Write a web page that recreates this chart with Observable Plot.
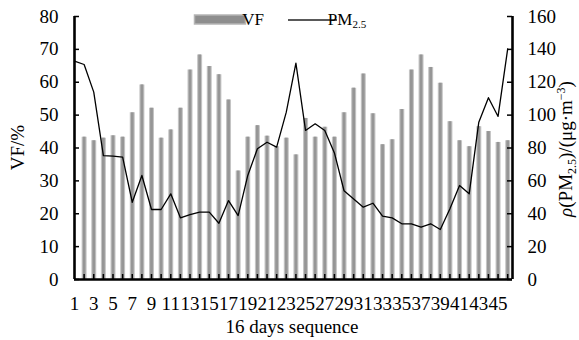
<!DOCTYPE html>
<html><head><meta charset="utf-8">
<script src="https://cdn.jsdelivr.net/npm/d3@7"></script>
<script src="https://cdn.jsdelivr.net/npm/@observablehq/plot@0.6"></script>
<style>body{margin:0;background:#fff} svg text{font-family:"Liberation Serif","Times New Roman",serif}</style>
</head><body><div id="chart"></div>
<script>
// VF (%) per sampling day, days 1..45
const days = [1,2,3,4,5,6,7,8,9,10,11,12,13,14,15,16,17,18,19,20,21,22,23,24,25,26,27,28,29,30,31,32,33,34,35,36,37,38,39,40,41,42,43,44,45];
const vf = [43.3,42.2,43,43.7,43.3,50.7,59.2,52.1,43,45.5,52.1,63.7,68.3,64.8,62.3,54.6,33,43.3,46.8,43.6,40.4,43,37.9,49,43.3,46.3,43.3,50.7,58.2,62.5,50.4,41,42.5,51.7,63.7,68.3,64.5,59.7,48,42.2,40.4,46.5,45,41.7,42.2];
// PM2.5 (µg/m3) series index 0..45
const pmIdx = [0,1,2,3,4,5,6,7,8,9,10,11,12,13,14,15,16,17,18,19,20,21,22,23,24,25,26,27,28,29,30,31,32,33,34,35,36,37,38,39,40,41,42,43,44,45];
const pm = [132.8,130.8,114,75.4,75,74.4,47,63.3,42.6,42.6,52.1,37.5,39.5,41,41,34.2,48,38.9,63.3,79.5,83.5,80.5,101.8,131.6,90.7,94.7,90.7,77,54,49,44,46.4,38.5,37.5,33.9,33.9,31.8,33.9,30.4,43,57.2,52.1,95.7,110.6,99.2,140.3];
const xTickLabels = [1,3,5,7,9,11,13,15,17,19,21,23,25,27,29,31,33,35,37,39,41,43,45];
const yLeftTicks = [0,10,20,30,40,50,60,70,80];
const yRightTicks = [0,20,40,60,80,100,120,140,160];

const font = "Liberation Serif";
const fs = 19;
const xMax = 45.5;
const ratio = 2; // right axis = left * 2

const vfData = days.map((d,i)=>({d, v: vf[i]}));
const pmData = pmIdx.map((d,i)=>({d, v: pm[i]/ratio}));

const plot = Plot.plot({
  width: 579, height: 340,
  marginLeft: 74, marginRight: 67, marginTop: 16, marginBottom: 61,
  style: {fontFamily: font, fontSize: fs + "px", background: "#fff", color: "#000"},
  x: {domain: [0, xMax], axis: null},
  y: {domain: [0, 80], axis: null},
  marks: [
    Plot.ruleX(vfData, {x: "d", y1: 0, y2: "v", stroke: "#c4c4c4", strokeWidth: 5}),
    Plot.ruleX(vfData, {x: "d", y1: 0, y2: "v", stroke: "#969696", strokeWidth: 2.8}),
    Plot.line(pmData, {x: "d", y: "v", stroke: "#000", strokeWidth: 1.3}),
    Plot.ruleX(days, {x: d=>d, y1: 0, y2: 0, insetTop: -5, stroke: "#000", strokeWidth: 1.5}),
    Plot.ruleY(yLeftTicks, {y: d=>d, x1: 0, x2: 0, insetRight: -5, stroke: "#000", strokeWidth: 1.5}),
    Plot.ruleY(yLeftTicks, {y: d=>d, x1: xMax, x2: xMax, insetLeft: -5, stroke: "#000", strokeWidth: 1.5}),
    Plot.ruleX([0, xMax], {y1: 0, y2: 80, stroke: "#000", strokeWidth: 2.6}),
    Plot.ruleY([0], {x1: 0, x2: xMax, stroke: "#000", strokeWidth: 2.6}),
    Plot.axisY({anchor: "left", ticks: yLeftTicks, tickSize: 0, tickPadding: 16, label: null, fontSize: fs, fontFamily: font}),
    Plot.axisY({anchor: "right", ticks: yLeftTicks, tickSize: 0, tickPadding: 15, label: null, fontSize: fs, fontFamily: font,
      tickFormat: d => String(yRightTicks[yLeftTicks.indexOf(d)])}),
    Plot.axisX({anchor: "bottom", ticks: xTickLabels.map(l => l - 1), tickSize: 0, tickPadding: 17, label: null, fontSize: fs, fontFamily: font,
      tickFormat: d => String(xTickLabels[xTickLabels.indexOf(d + 1)])})
  ]
});
document.getElementById("chart").appendChild(plot);

const svg = d3.select(plot);
svg.selectAll("text").attr("font-family", "Liberation Serif");
const g = svg.append("g").attr("font-family", "Liberation Serif").attr("fill", "#000");
g.append("text").attr("transform", "translate(24,147.5) rotate(-90)").attr("text-anchor", "middle")
  .attr("font-size", fs).text("VF/%");
const rt = g.append("text").attr("transform", "translate(572,149) rotate(-90)").attr("text-anchor", "middle")
  .attr("font-size", fs);
rt.append("tspan").attr("font-style", "italic").text("ρ");
rt.append("tspan").text("(PM");
rt.append("tspan").attr("font-size", 12).attr("dy", 4).text("2.5");
rt.append("tspan").attr("dy", -4).text(")/(μg·m");
rt.append("tspan").attr("font-size", 12).attr("dy", -7).text("−3");
rt.append("tspan").attr("dy", 7).text(")");
g.append("text").attr("x", 292).attr("y", 333).attr("text-anchor", "middle").attr("font-size", fs).text("16 days sequence");
// legend
g.append("rect").attr("x", 194.5).attr("y", 15).attr("width", 51).attr("height", 9)
  .attr("fill", "#8e8e8e").attr("stroke", "#b5b5b5").attr("stroke-width", 1.5);
g.append("text").attr("x", 253).attr("y", 25).attr("font-size", 17).text("VF");
g.append("line").attr("x1", 288).attr("x2", 337).attr("y1", 20).attr("y2", 20).attr("stroke", "#222").attr("stroke-width", 1.5);
const lt = g.append("text").attr("x", 347).attr("y", 25).attr("font-size", 17);
lt.append("tspan").text("PM");
lt.append("tspan").attr("font-size", 11).attr("dy", 3).text("2.5");
</script>
</body></html>
